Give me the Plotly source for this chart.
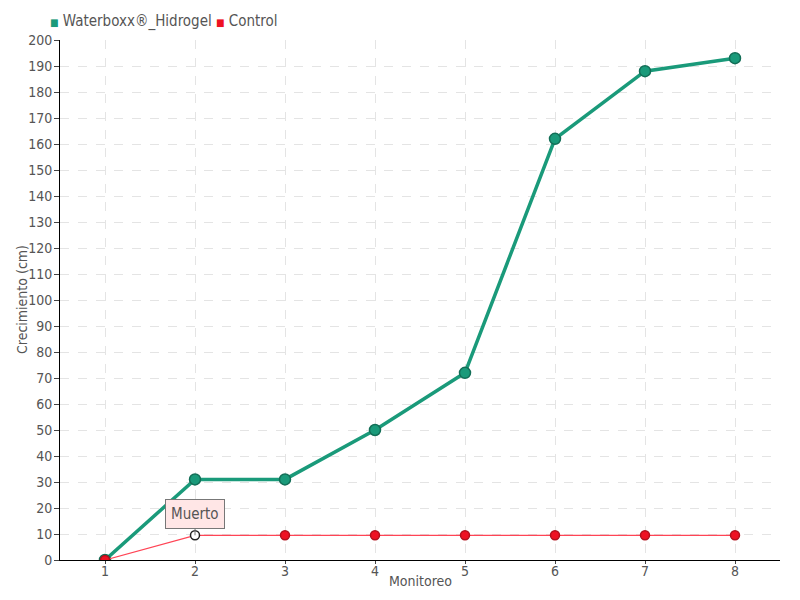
import plotly.graph_objects as go

monitoreo = [1, 2, 3, 4, 5, 6, 7, 8]
waterboxx = [0, 31, 31, 50, 72, 162, 188, 193]
control = [0, 9.5, 9.5, 9.5, 9.5, 9.5, 9.5, 9.5]
muerto_idx = 1
series_names = ["Waterboxx®_Hidrogel", "Control"]

font_family = "Liberation Sans Narrow, DejaVu Sans Condensed, Roboto, sans-serif"
text_color = "#555555"
green = "#1a9a7a"
red = "#ee1122"

fig = go.Figure()

fig.add_trace(go.Scatter(
    x=monitoreo, y=waterboxx, name=series_names[0],
    mode="lines+markers", showlegend=False,
    line=dict(color=green, width=3.5),
    marker=dict(size=11, color=green, line=dict(color="#136e57", width=1.5)),
))

ctrl_colors = [red] * len(control)
ctrl_colors[muerto_idx] = "white"
ctrl_border = ["#b0101c"] * len(control)
ctrl_border[muerto_idx] = "#222222"
fig.add_trace(go.Scatter(
    x=monitoreo, y=control, name=series_names[1],
    mode="lines+markers", showlegend=False,
    line=dict(color="#ff4455", width=1.2),
    marker=dict(size=9, color=ctrl_colors, line=dict(color=ctrl_border, width=1.5)),
))

# legend drawn as text with square glyphs
legend_text = (
    f"<span style='color:{green};font-size:10px'>■</span> {series_names[0]} "
    f"<span style='color:{red};font-size:10px'>■</span> {series_names[1]}"
)
fig.add_annotation(
    xref="paper", yref="paper", x=-0.017, y=1.0, yshift=19,
    xanchor="left", yanchor="middle", showarrow=False,
    text=legend_text, font=dict(family=font_family, size=15, color=text_color),
)

# axis titles
fig.add_annotation(
    xref="paper", yref="paper", x=0.5, y=0, yshift=-21,
    xanchor="center", yanchor="middle", showarrow=False,
    text="Monitoreo", font=dict(family=font_family, size=14, color=text_color),
)
fig.add_annotation(
    xref="paper", yref="paper", x=0, y=0.5, xshift=-38,
    xanchor="center", yanchor="middle", showarrow=False, textangle=-90,
    text="Crecimiento (cm)", font=dict(family=font_family, size=14, color=text_color),
)

fig.add_annotation(
    x=monitoreo[muerto_idx], y=control[muerto_idx],
    text="Muerto", showarrow=True, arrowhead=0, arrowcolor="#777777",
    arrowwidth=1, ax=0, ay=-21,
    font=dict(family=font_family, size=15, color=text_color),
    bgcolor="#ffe6e6", bordercolor="#777777", borderwidth=1, borderpad=5,
)

fig.update_layout(
    width=800, height=600,
    margin=dict(l=52, r=28, t=32, b=48),
    plot_bgcolor="white", paper_bgcolor="white",
    font=dict(family=font_family, size=15, color=text_color),
    showlegend=False,
    xaxis=dict(
        range=[0.5, 8.5], tickvals=monitoreo, ticks="outside", ticklen=3,
        tickfont=dict(size=14), ticklabelstandoff=-5,
        showline=True, linecolor="black", linewidth=1, automargin=False,
        showgrid=True, gridcolor="#e4e4e4", griddash="dash",
        zeroline=False,
    ),
    yaxis=dict(
        range=[0, 200], dtick=10, ticks="outside", ticklen=5,
        tickfont=dict(size=14), ticklabelstandoff=-1,
        showline=True, linecolor="black", linewidth=1, automargin=False,
        showgrid=True, gridcolor="#e4e4e4", griddash="dash",
        zeroline=False,
    ),
)

fig.write_html("out.html")
